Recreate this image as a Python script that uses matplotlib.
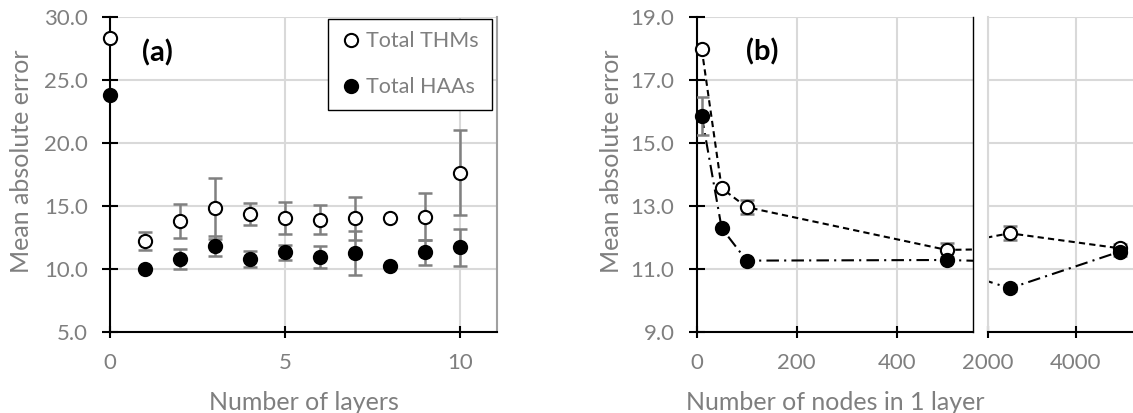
import numpy as np
import matplotlib.pyplot as plt
from matplotlib.ticker import FormatStrFormatter

plt.rcParams['font.family'] = ['Lato', 'DejaVu Sans']

# (a) error vs number of layers
layers = np.array([0, 1, 2, 3, 4, 5, 6, 7, 8, 9, 10])
thm_layers = np.array([28.35, 12.2, 13.8, 14.8, 14.35, 14.05, 13.9, 14.0, 14.05, 14.15, 17.65])
thm_layers_err = np.array([0, 0.7, 1.35, 2.4, 0.9, 1.3, 1.15, 1.7, 0, 1.9, 3.4])
haa_layers = np.array([23.85, 10.0, 10.75, 11.8, 10.8, 11.3, 10.95, 11.25, 10.2, 11.3, 11.7])
haa_layers_err = np.array([0, 0, 0.8, 0.8, 0.65, 0.6, 0.9, 1.75, 0, 1.0, 1.5])

# (b) error vs number of nodes in 1 layer
nodes = np.array([10, 50, 100, 500, 2500, 5000])
thm_nodes = np.array([18.0, 13.56, 12.96, 11.6, 12.13, 11.65])
thm_nodes_err = np.array([0, 0, 0.22, 0.22, 0.22, 0.15])
haa_nodes = np.array([15.87, 12.29, 11.26, 11.28, 10.38, 11.55])
haa_nodes_err = np.array([0.6, 0, 0, 0, 0.1, 0.15])

txt_c = '#7f7f7f'
grid_c = '#d9d9d9'
err_c = '#808080'
tick_fs = 16
lab_fs = 18

fig = plt.figure(figsize=(11.33, 4.13), dpi=100)
ax_a = fig.add_axes([0.0971, 0.1969, 0.3416, 0.7613])
ax_b1 = fig.add_axes([0.6149, 0.1969, 0.2436, 0.7613])
ax_b2 = fig.add_axes([0.8717, 0.1969, 0.1283, 0.7613])


def style(ax):
    ax.grid(True, color=grid_c, lw=1.5)
    ax.set_axisbelow(True)
    ax.spines['top'].set_visible(False)
    ax.spines['right'].set_visible(False)
    ax.spines['left'].set_linewidth(1.5)
    ax.spines['bottom'].set_linewidth(1.5)
    ax.tick_params(axis='y', direction='inout', length=12, width=1.5, pad=10,
                   labelsize=tick_fs, labelcolor=txt_c)
    ax.tick_params(axis='x', direction='inout', length=8.5, width=1.5, pad=11,
                   labelsize=tick_fs, labelcolor=txt_c)


def draw_series(ax, x, y, err, face, ls, mask):
    ax.plot(x, y, color='black', ls=ls, lw=1.5, zorder=2)
    m = mask & (err > 0)
    ax.errorbar(x[m], y[m], yerr=err[m], fmt='none', ecolor=err_c, elinewidth=1.8,
                capsize=4.7, capthick=1.8, zorder=3)
    ax.plot(x[mask], y[mask], 'o', ms=9.5, mfc=face, mec='black', mew=1.5,
            ls='none', clip_on=False, zorder=4)


# panel (a)
style(ax_a)
ea = thm_layers_err > 0
ax_a.errorbar(layers[ea], thm_layers[ea], yerr=thm_layers_err[ea], fmt='none', ecolor=err_c,
              elinewidth=1.8, capsize=4.7, capthick=1.8, zorder=3)
eb = haa_layers_err > 0
ax_a.errorbar(layers[eb], haa_layers[eb], yerr=haa_layers_err[eb], fmt='none', ecolor=err_c,
              elinewidth=1.8, capsize=4.7, capthick=1.8, zorder=3)
ax_a.plot(layers, thm_layers, 'o', ms=9.5, mfc='white', mec='black', mew=1.5,
          clip_on=False, zorder=4, label='Total THMs')
ax_a.plot(layers, haa_layers, 'o', ms=9.5, mfc='black', mec='black', mew=1.5,
          clip_on=False, zorder=4, label='Total HAAs')
ax_a.set_xlim(0, 11.05)
ax_a.set_ylim(5, 30)
ax_a.set_xticks([0, 5, 10])
ax_a.set_yticks(np.arange(5, 31, 5))
ax_a.yaxis.set_major_formatter(FormatStrFormatter('%.1f'))
ax_a.spines['right'].set_visible(True)
ax_a.spines['right'].set_color('#a0a0a0')
ax_a.spines['right'].set_linewidth(1.5)
leg = ax_a.legend(loc='upper right', bbox_to_anchor=(0.987, 0.996), fancybox=False,
                  edgecolor='black', framealpha=1, fontsize=15.5, labelspacing=1.2,
                  handletextpad=0.2, handlelength=1.0, borderpad=0.6, borderaxespad=0,
                  labelcolor=txt_c)
leg.get_frame().set_linewidth(1.0)
ax_a.text(0.082, 0.886, '(a)', transform=ax_a.transAxes, fontsize=21, fontweight='bold',
          va='center', ha='left')

# panel (b), broken x axis
for ax, lo, hi in [(ax_b1, 0, 552), (ax_b2, 2000, 5291)]:
    style(ax)
    show = (nodes >= lo) & (nodes <= hi)
    draw_series(ax, nodes, thm_nodes, thm_nodes_err, 'white', (0, (3, 2)), show)
    draw_series(ax, nodes, haa_nodes, haa_nodes_err, 'black', (0, (6, 2.5, 1, 2.5)), show)
    ax.set_xlim(lo, hi)
    ax.set_ylim(9, 19)
    ax.set_yticks(np.arange(9, 19.1, 2))
    ax.yaxis.set_major_formatter(FormatStrFormatter('%.1f'))

ax_b1.set_xticks([0, 200, 400])
ax_b1.spines['right'].set_visible(True)
ax_b1.spines['right'].set_linewidth(1.0)
ax_b1.text(0.179, 0.89, '(b)', transform=ax_b1.transAxes, fontsize=21, fontweight='bold',
           va='center', ha='left')

ax_b2.set_xticks([2000, 4000])
ax_b2.tick_params(axis='y', length=0, labelleft=False)
ax_b2.spines['left'].set_color(grid_c)

# axis titles
fig.text(22 / 1133, 0.61, 'Mean absolute error', rotation=90, ha='center', va='center',
         fontsize=lab_fs, color=txt_c)
fig.text(611.7 / 1133, 0.61, 'Mean absolute error', rotation=90, ha='center', va='center',
         fontsize=lab_fs, color=txt_c)
fig.text(303.5 / 1133, 0.0073, 'Number of layers', ha='center', va='baseline',
         fontsize=lab_fs, color=txt_c)
fig.text(835 / 1133, 0.0073, 'Number of nodes in 1 layer', ha='center', va='baseline',
         fontsize=lab_fs, color=txt_c)

fig.savefig('out.png', dpi=100)
